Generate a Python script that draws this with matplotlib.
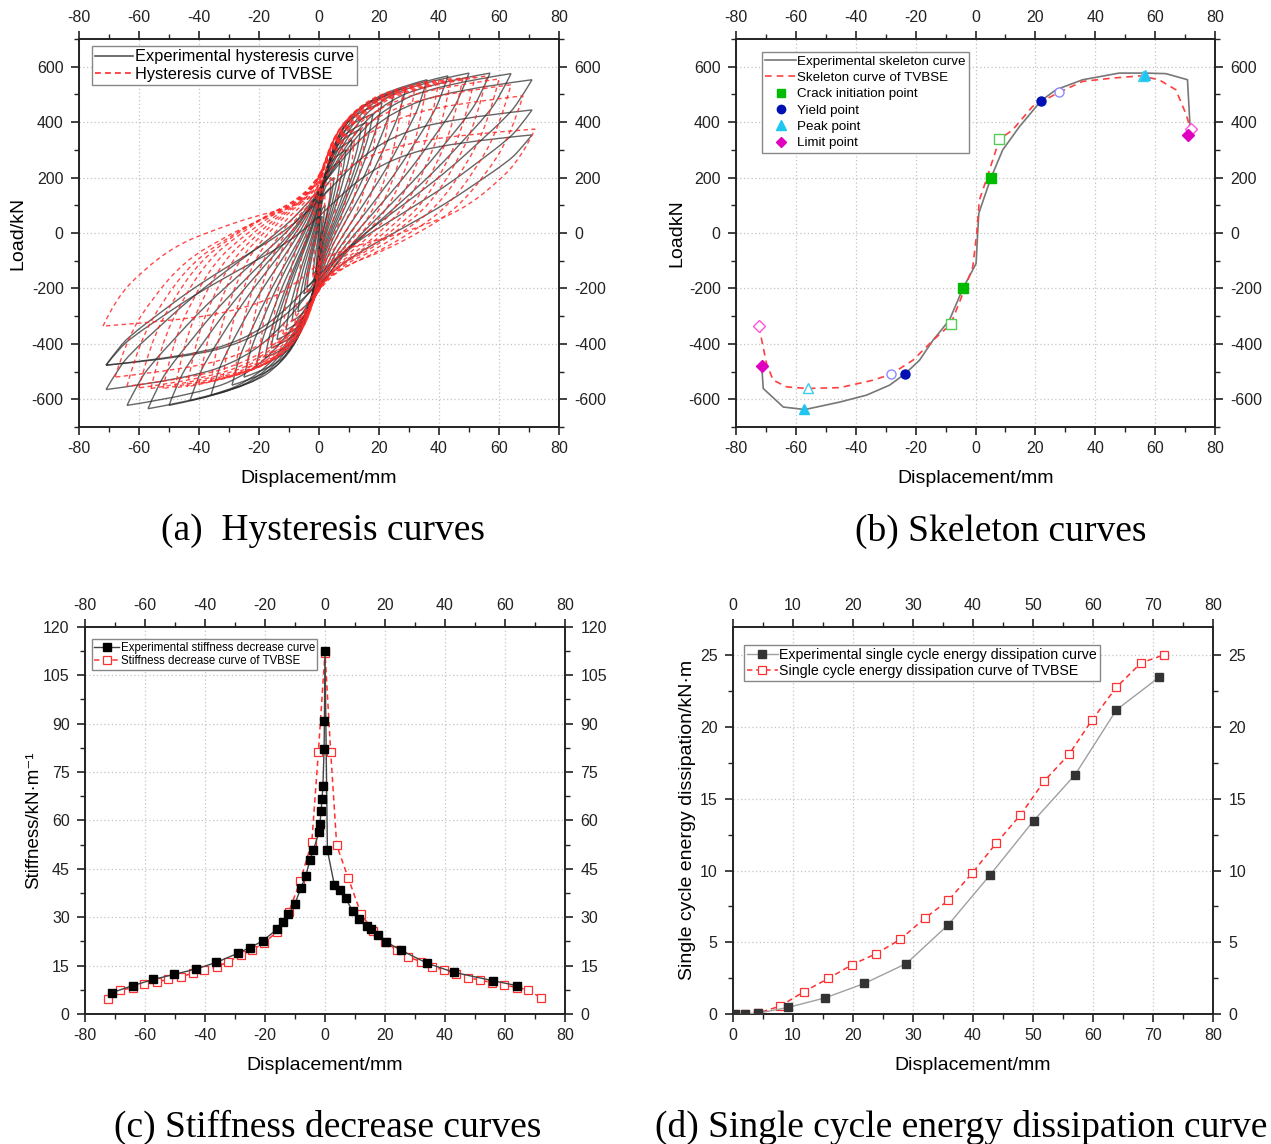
import numpy as np
import matplotlib
matplotlib.use("Agg")
import matplotlib.pyplot as plt
from matplotlib.path import Path
from matplotlib.patches import PathPatch
from matplotlib.lines import Line2D
from matplotlib.ticker import MultipleLocator

plt.rcParams['font.family'] = ['Liberation Sans', 'DejaVu Sans']
plt.rcParams['axes.unicode_minus'] = False

# ---------------- data: (a) hysteresis loops (peak points of each cycle) ----------------
exp_loop_dpos = [1, 2, 4, 5, 7, 9, 11, 14, 16, 18, 21, 25, 29, 36, 43, 50, 57, 64, 71, 71, 71]
exp_loop_ppos = [60, 100, 165, 200, 260, 300, 335, 375, 400, 430, 470, 505, 525, 553, 567, 577, 577, 575, 553, 444, 354]
exp_loop_dneg = [-1, -2, -4, -5, -7, -9, -11, -14, -16, -18, -21, -25, -29, -36, -43, -50, -57, -64, -71, -71, -71]
exp_loop_pneg = [-130, -150, -195, -220, -285, -318, -350, -385, -415, -450, -485, -520, -549, -585, -605, -622, -634, -622, -565, -477, -477]

tv_loop_dpos = [2, 4, 8, 12, 16, 20, 24, 28, 32, 36, 40, 44, 48, 52, 56, 60, 64, 68, 72]
tv_loop_ppos = [140, 200, 338, 372, 420, 462, 490, 508, 530, 547, 553, 557, 561, 564, 567, 556, 535, 495, 375]
tv_loop_dneg = [-2, -4, -8, -12, -16, -20, -24, -28, -32, -36, -40, -44, -48, -52, -56, -60, -64, -68, -72]
tv_loop_pneg = [-160, -215, -325, -365, -405, -450, -485, -508, -522, -535, -545, -555, -559, -561, -561, -559, -553, -520, -336]

# normalised shape of a loading branch (fraction of loop width / height)
exp_shape_x = [0, 0.03, 0.06, 0.123, 0.191, 0.26, 0.338, 0.406, 0.46, 0.52, 0.588, 0.675, 0.807, 1.0]
exp_shape_y = [0, 0.07, 0.12, 0.2, 0.285, 0.36, 0.44, 0.51, 0.58, 0.68, 0.8, 0.9, 0.965, 1.0]
tv_shape_x = [0, 0.03, 0.093, 0.171, 0.257, 0.347, 0.43, 0.49, 0.54, 0.6, 0.69, 0.82, 1.0]
tv_shape_y = [0, 0.14, 0.284, 0.412, 0.488, 0.555, 0.6, 0.66, 0.76, 0.85, 0.92, 0.97, 1.0]

# ---------------- data: (b) skeleton curves ----------------
exp_skel_x = [-71.4, -70.9, -64.2, -57.0, -45.3, -36.4, -28.7, -23.4, -18.7, -14.2, -8.7, -4.2, 0.2, 0.6,
              1.1, 3.0, 5.2, 9.1, 14.7, 21.9, 26.9, 35.8, 48.0, 56.9, 63.6, 70.8, 71.3, 71.6, 70.9]
exp_skel_y = [-481, -561, -628, -637, -610, -585, -549, -507, -459, -387, -314, -200, -110, -25,
              71, 131, 200, 300, 384, 477, 517, 553, 577, 577, 575, 553, 457, 396, 352]
tv_skel_x = [-72.3, -71.4, -69.8, -67.6, -63.1, -56.5, -45.3, -34.2, -28.3, -20.9, -14.2, -8.3, -4.2, -0.9,
             0.4, 1.3, 3.6, 8.0, 12.4, 19.1, 27.8, 35.8, 45.8, 55.2, 61.3, 66.9, 70.2, 71.9]
tv_skel_y = [-336, -387, -471, -531, -555, -561, -558, -531, -510, -459, -387, -330, -218, -122,
             -1, 119, 192, 338, 372, 457, 507, 547, 559, 567, 553, 517, 432, 375]

exp_crack_x, exp_crack_y = [-4.2, 5.2], [-200, 200]
exp_yield_x, exp_yield_y = [-23.4, 21.9], [-507, 477]
exp_peak_x, exp_peak_y = [-57.2, 56.7], [-634, 571]
exp_limit_x, exp_limit_y = [-71.4, 70.9], [-481, 352]
tv_crack_x, tv_crack_y = [-8.3, 8.0], [-330, 338]
tv_yield_x, tv_yield_y = [-28.3, 27.8], [-510, 507]
tv_peak_x, tv_peak_y = [-56.1, 55.8], [-561, 567]
tv_limit_x, tv_limit_y = [-72.3, 71.9], [-336, 375]

# ---------------- data: (c) stiffness ----------------
exp_stiff_x = [-71.1, -64.1, -57.2, -50.2, -43.1, -36.2, -29.1, -25.0, -20.8, -16.1, -14.1, -12.2, -10.0,
               -8.1, -6.4, -5.0, -3.9, -2.0, -1.7, -1.3, -1.0, -0.7, -0.3, -0.2, 0.0,
               0.8, 3.1, 5.0, 6.9, 9.2, 11.3, 13.9, 15.2, 17.6, 20.3, 25.2, 34.1, 43.0, 56.1, 63.9]
exp_stiff_y = [6.6, 8.8, 10.7, 12.3, 13.9, 16.0, 18.8, 20.6, 22.6, 26.2, 28.5, 30.9, 34.2,
               38.9, 42.8, 47.8, 50.7, 56.4, 59.0, 62.8, 66.5, 70.5, 82.2, 90.9, 112.6,
               50.7, 40.1, 38.4, 35.8, 31.9, 29.4, 27.2, 26.2, 24.4, 22.4, 19.8, 15.7, 12.9, 10.3, 8.8]
tv_stiff_x = [-72.2, -68.3, -64.1, -60.2, -56.1, -52.2, -48.0, -44.1, -40.2, -36.1, -32.2, -28.1, -24.2,
              -20.2, -16.1, -12.1, -8.3, -4.4, -2.2, 0.0, 1.9, 3.9, 7.8, 12.0, 15.9, 20.0, 23.9, 27.8,
              31.9, 35.8, 39.8, 43.7, 47.6, 51.7, 55.8, 59.8, 63.9, 67.8, 71.9]
tv_stiff_y = [4.5, 7.4, 8.1, 9.2, 10.0, 10.7, 11.6, 12.6, 13.6, 14.6, 16.2, 18.2, 19.9,
              22.1, 25.4, 31.5, 41.1, 53.3, 81.2, 112.0, 81.2, 52.3, 42.0, 31.1, 25.8, 22.4, 19.8, 17.7,
              16.2, 14.6, 13.6, 12.4, 11.3, 10.5, 9.7, 9.0, 8.2, 7.5, 5.0]

# ---------------- data: (d) energy dissipation ----------------
exp_energy_x = [0.3, 2.0, 4.1, 9.2, 15.4, 21.9, 28.9, 35.9, 42.9, 50.1, 57.0, 63.9, 71.0]
exp_energy_y = [0.0, 0.02, 0.05, 0.46, 1.13, 2.13, 3.52, 6.23, 9.72, 13.47, 16.67, 21.2, 23.47]
tv_energy_x = [0.3, 2.0, 4.1, 7.9, 11.8, 15.9, 19.9, 23.9, 27.9, 32.0, 35.9, 39.9, 43.9, 47.9, 51.9,
               56.0, 59.9, 63.9, 68.0, 71.9]
tv_energy_y = [0.0, 0.02, 0.05, 0.56, 1.55, 2.48, 3.45, 4.21, 5.21, 6.69, 7.92, 9.84, 11.92, 13.87,
               16.25, 18.1, 20.53, 22.78, 24.47, 25.05]

# ---------------- figure ----------------
FW, FH = 1271, 1144
fig = plt.figure(figsize=(FW / 100, FH / 100), dpi=100)


def axes_px(l, t, r, b):
    return fig.add_axes([l / FW, 1 - b / FH, (r - l) / FW, (b - t) / FH])


def style(ax, xlim, ylim, xmaj, xmin, ymaj, ymin):
    ax.set_xlim(*xlim)
    ax.set_ylim(*ylim)
    ax.xaxis.set_major_locator(MultipleLocator(xmaj))
    ax.xaxis.set_minor_locator(MultipleLocator(xmin))
    ax.yaxis.set_major_locator(MultipleLocator(ymaj))
    ax.yaxis.set_minor_locator(MultipleLocator(ymin))
    ax.tick_params(which='both', direction='out', top=True, right=True,
                   labeltop=True, labelright=True, labelsize=11.5, pad=5,
                   color='#222222', labelcolor='#222222')
    ax.tick_params(axis='x', pad=4)
    ax.tick_params(which='major', length=6, width=1.2)
    ax.tick_params(which='minor', length=3.5, width=1.0)
    ax.grid(True, which='major', color='#c4c4c4', ls=(0, (1, 2)), lw=0.9)
    ax.set_axisbelow(True)
    for s in ax.spines.values():
        s.set_linewidth(1.4)
        s.set_color('#222222')


def loop_path(dn, pn, dp, pp, sx, sy):
    sx = np.asarray(sx, float)
    sy = np.asarray(sy, float)
    w = dp - dn
    h = pp - pn
    up = np.column_stack([dn + sx * w, pn + sy * h])
    lo = np.column_stack([dp - sx * w, pp - sy * h])
    verts, codes = [], []

    def add(v, first):
        if first:
            verts.append(v[0])
            codes.append(Path.MOVETO)
        n = len(v)
        for i in range(1, n - 1):
            end = v[n - 1] if i == n - 2 else (v[i] + v[i + 1]) / 2
            verts.extend([v[i], end])
            codes.extend([Path.CURVE3, Path.CURVE3])

    add(up, True)
    add(lo, False)
    return Path(np.array(verts), codes)


GRAY = '#2a2a2a'
RED = '#ff2a2a'

# ---------------- (a) ----------------
axA = axes_px(79, 39, 559, 427)
style(axA, (-80, 80), (-700, 700), 20, 10, 200, 100)
for dn, pn, dp, pp in zip(exp_loop_dneg, exp_loop_pneg, exp_loop_dpos, exp_loop_ppos):
    axA.add_patch(PathPatch(loop_path(dn, pn, dp, pp, exp_shape_x, exp_shape_y),
                            fill=False, edgecolor=GRAY, lw=1.0, alpha=0.72, zorder=2))
for dn, pn, dp, pp in zip(tv_loop_dneg, tv_loop_pneg, tv_loop_dpos, tv_loop_ppos):
    axA.add_patch(PathPatch(loop_path(dn, pn, dp, pp, tv_shape_x, tv_shape_y),
                            fill=False, edgecolor=RED, lw=1.0, ls=(0, (3.2, 2.4)), alpha=0.85, zorder=3))
hA = [Line2D([], [], color='#555555', lw=1.2, label='Experimental hysteresis curve'),
      Line2D([], [], color=RED, lw=1.2, ls=(0, (3.5, 2.5)), label='Hysteresis curve of TVBSE')]
axA.legend(handles=hA, loc='upper left', bbox_to_anchor=(13 / 480, 1 - 7 / 388), borderaxespad=0,
           fontsize=11.8, frameon=True, fancybox=False, edgecolor='#888888', framealpha=1,
           handlelength=2.3, handletextpad=0.1, labelspacing=0.15, borderpad=0.2)
axA.set_xlabel('Displacement/mm', fontsize=14)
axA.set_ylabel('Load/kN', fontsize=14)
axA.xaxis.set_label_coords(0.5, -0.112)
axA.yaxis.set_label_coords(-0.11, 0.5)

# ---------------- (b) ----------------
axB = axes_px(736, 39, 1215, 427)
style(axB, (-80, 80), (-700, 700), 20, 10, 200, 100)
axB.plot(exp_skel_x, exp_skel_y, color='#777777', lw=1.2, zorder=3)
axB.plot(tv_skel_x, tv_skel_y, color='#ff4040', lw=1.2, ls=(0, (4, 3)), zorder=3)
C_CRACK, C_YIELD, C_PEAK, C_LIMIT = '#00bb00', '#0010b4', '#1ec6f0', '#e000c0'
axB.plot(exp_crack_x, exp_crack_y, 's', color=C_CRACK, ms=6.5, ls='none', zorder=5)
axB.plot(exp_yield_x, exp_yield_y, 'o', color=C_YIELD, ms=6.5, ls='none', zorder=5)
axB.plot(exp_peak_x, exp_peak_y, '^', color=C_PEAK, ms=7, ls='none', zorder=5)
axB.plot(exp_limit_x, exp_limit_y, 'D', color=C_LIMIT, ms=6, ls='none', zorder=5)
axB.plot(tv_crack_x, tv_crack_y, 's', mfc='white', mec='#55cc55', ms=6.5, ls='none', zorder=4)
axB.plot(tv_yield_x, tv_yield_y, 'o', mfc='white', mec='#8c8cff', ms=6.5, ls='none', zorder=4)
axB.plot(tv_peak_x, tv_peak_y, '^', mfc='white', mec='#40ccee', ms=7, ls='none', zorder=4)
axB.plot(tv_limit_x, tv_limit_y, 'D', mfc='white', mec='#ff55dd', ms=6, ls='none', zorder=4)
hB = [Line2D([], [], color='#777777', lw=1.2, label='Experimental skeleton curve'),
      Line2D([], [], color='#ff4040', lw=1.2, ls=(0, (4, 3)), label='Skeleton curve of TVBSE'),
      Line2D([], [], color=C_CRACK, marker='s', ls='none', ms=6, label='Crack initiation point'),
      Line2D([], [], color=C_YIELD, marker='o', ls='none', ms=6, label='Yield point'),
      Line2D([], [], color=C_PEAK, marker='^', ls='none', ms=6.5, label='Peak point'),
      Line2D([], [], color=C_LIMIT, marker='D', ls='none', ms=5.5, label='Limit point')]
axB.legend(handles=hB, loc='upper left', bbox_to_anchor=(26 / 479, 1 - 13 / 388), borderaxespad=0,
           fontsize=9.6, frameon=True, fancybox=False, edgecolor='#888888', framealpha=1,
           handlelength=2.3, handletextpad=0.1, labelspacing=0.3, borderpad=0.25)
axB.set_xlabel('Displacement/mm', fontsize=14)
axB.set_ylabel('LoadkN', fontsize=14)
axB.xaxis.set_label_coords(0.5, -0.112)
axB.yaxis.set_label_coords(-0.105, 0.5)

# ---------------- (c) ----------------
axC = axes_px(85, 626.7, 565, 1014)
style(axC, (-80, 80), (0, 120), 20, 10, 15, 7.5)
axC.plot(tv_stiff_x, tv_stiff_y, color='#ff3030', lw=1.1, ls=(0, (3.5, 2.5)), marker='s', ms=5.5,
         mfc='white', mec='#ff3030', mew=0.9, zorder=3, label='Stiffness decrease curve of TVBSE')
axC.plot(exp_stiff_x, exp_stiff_y, color='#444444', lw=1.0, marker='s', ms=6,
         mfc='black', mec='black', zorder=4, label='Experimental stiffness decrease curve')
hC, lC = axC.get_legend_handles_labels()
axC.legend(hC[::-1], lC[::-1], loc='upper left', bbox_to_anchor=(6.7 / 480, 1 - 12.6 / 388), borderaxespad=0,
           fontsize=8.3, frameon=True, fancybox=False, edgecolor='#888888', framealpha=1,
           handlelength=2.2, handletextpad=0.1, labelspacing=0.15, borderpad=0.2)
axC.set_xlabel('Displacement/mm', fontsize=14)
axC.set_ylabel('Stiffness/kN·m⁻¹', fontsize=13.5)
axC.xaxis.set_label_coords(0.5, -0.112)
axC.yaxis.set_label_coords(-0.09, 0.5)

# ---------------- (d) ----------------
axD = axes_px(733, 626.7, 1213, 1014)
style(axD, (0, 80), (0, 27), 10, 5, 5, 2.5)
axD.plot(tv_energy_x, tv_energy_y, color='#ff3030', lw=1.1, ls=(0, (3.5, 2.5)), marker='s', ms=5.5,
         mfc='white', mec='#ff3030', mew=0.9, zorder=3, label='Single cycle energy dissipation curve of TVBSE')
axD.plot(exp_energy_x, exp_energy_y, color='#a0a0a0', lw=1.0, marker='s', ms=5.5,
         mfc='#333333', mec='#333333', zorder=4, label='Experimental single cycle energy dissipation curve')
hD, lD = axD.get_legend_handles_labels()
axD.legend(hD[::-1], lD[::-1], loc='upper left', bbox_to_anchor=(11 / 480, 1 - 18.3 / 388), borderaxespad=0,
           fontsize=10.2, frameon=True, fancybox=False, edgecolor='#888888', framealpha=1,
           handlelength=2.2, handletextpad=0.1, labelspacing=0.15, borderpad=0.2)
axD.set_xlabel('Displacement/mm', fontsize=14)
axD.set_ylabel('Single cycle energy dissipation/kN·m', fontsize=14)
axD.xaxis.set_label_coords(0.5, -0.112)
axD.yaxis.set_label_coords(-0.077, 0.5)

# ---------------- captions ----------------
cap = dict(ha='center', va='center', family='Liberation Serif', fontsize=27, color='black')
fig.text(323 / FW, 1 - 531 / FH, '(a)  Hysteresis curves', **cap)
fig.text(1001 / FW, 1 - 531 / FH, '(b) Skeleton curves', **cap)
fig.text(328 / FW, 1 - 1127 / FH, '(c) Stiffness decrease curves', **cap)
fig.text(961 / FW, 1 - 1127 / FH, '(d) Single cycle energy dissipation curve', **cap)

fig.savefig('out.png', dpi=100)
